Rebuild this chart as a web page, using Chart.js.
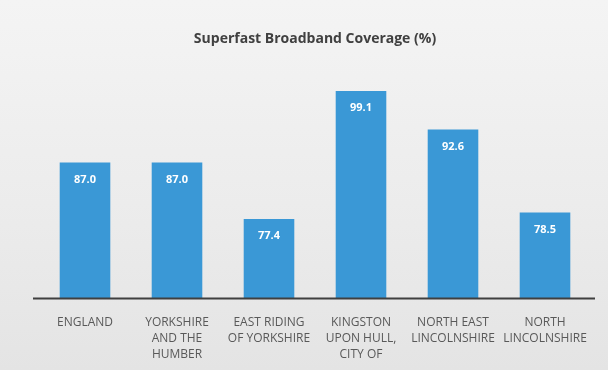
<!DOCTYPE html>
<html>
<head>
<meta charset="utf-8">
<script src="https://cdn.jsdelivr.net/npm/chart.js@4/dist/chart.umd.min.js"></script>
<style>
  html, body { margin: 0; padding: 0; }
  body {
    width: 608px; height: 370px; overflow: hidden;
    background: linear-gradient(180deg, #f4f4f4 0%, #ececec 55%, #e4e4e4 100%);
  }
  #wrap { position: relative; width: 608px; height: 370px; }
</style>
</head>
<body>
<div id="wrap"><canvas id="chart" width="608" height="370"></canvas></div>
<script>
// Areas compared
const areas = [
  'ENGLAND',
  ['YORKSHIRE', 'AND THE', 'HUMBER'],
  ['EAST RIDING', 'OF YORKSHIRE'],
  ['KINGSTON', 'UPON HULL,', 'CITY OF'],
  ['NORTH EAST', 'LINCOLNSHIRE'],
  ['NORTH', 'LINCOLNSHIRE']
];

// Superfast broadband coverage, percent of premises
const coverage = [87.0, 87.0, 77.4, 99.1, 92.6, 78.5];

const chartTitle = 'Superfast Broadband Coverage (%)';

// Writes each bar's value just inside the top of the bar
const barValueLabels = {
  id: 'barValueLabels',
  afterDatasetsDraw(chart) {
    const ctx = chart.ctx;
    const meta = chart.getDatasetMeta(0);
    ctx.save();
    ctx.fillStyle = '#ffffff';
    ctx.font = 'bold 11px "Open Sans", sans-serif';
    ctx.textAlign = 'center';
    ctx.textBaseline = 'middle';
    meta.data.forEach((bar, i) => {
      ctx.fillText(coverage[i].toFixed(1), bar.x, bar.y + 17);
    });
    ctx.restore();
  }
};

// Category axis line, running slightly past both ends of the plot
const baseLine = {
  id: 'baseLine',
  afterDatasetsDraw(chart) {
    const { ctx, chartArea } = chart;
    const y = chart.scales.x.top + 0.5;
    ctx.save();
    ctx.strokeStyle = '#3f3f3f';
    ctx.lineWidth = 2;
    ctx.beginPath();
    ctx.moveTo(chartArea.left - 6, y);
    ctx.lineTo(chartArea.right + 4, y);
    ctx.stroke();
    ctx.restore();
  }
};

new Chart(document.getElementById('chart'), {
  type: 'bar',
  data: {
    labels: areas,
    datasets: [{
      data: coverage,
      backgroundColor: '#3a98d6',
      borderWidth: 0,
      barPercentage: 0.55,
      categoryPercentage: 1.0
    }]
  },
  options: {
    responsive: false,
    animation: false,
    layout: { padding: { left: 39, right: 17, top: 0, bottom: 0 } },
    plugins: {
      legend: { display: false },
      tooltip: { enabled: false },
      title: {
        display: true,
        text: chartTitle,
        color: '#404040',
        font: { family: '"Open Sans", sans-serif', size: 14, weight: 'bold' },
        padding: { top: 31, bottom: 38 }
      }
    },
    scales: {
      y: {
        display: false,
        min: 64,
        max: 100
      },
      x: {
        grid: { display: false, drawTicks: false },
        border: { display: false },
        ticks: {
          color: '#595959',
          font: { family: '"Open Sans", sans-serif', size: 12, lineHeight: 1.35 },
          padding: 16,
          maxRotation: 0,
          autoSkip: false
        },
        afterFit(scale) { scale.height = 72; }
      }
    }
  },
  plugins: [barValueLabels, baseLine]
});
</script>
</body>
</html>
